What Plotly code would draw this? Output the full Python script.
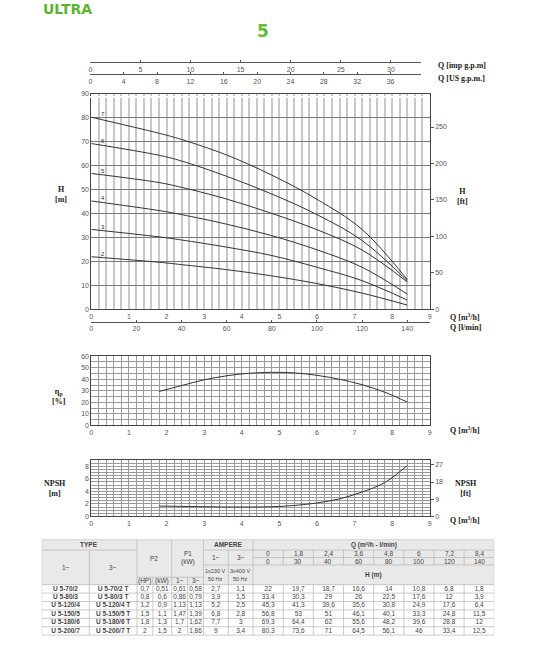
import plotly.graph_objects as go

# ---- data read from the sheet ----
q_m3h = [0, 1.8, 2.4, 3.6, 4.8, 6, 7.2, 8.4]
q_lmin = [0, 30, 40, 60, 80, 100, 120, 140]
stages = [2, 3, 4, 5, 6, 7]
head_2 = [22, 19.7, 18.7, 16.6, 14, 10.8, 6.8, 1.8]
head_3 = [33.4, 30.3, 29, 26, 22.5, 17.6, 12, 3.9]
head_4 = [45.3, 41.3, 39.6, 35.6, 30.8, 24.9, 17.6, 6.4]
head_5 = [56.8, 53, 51, 46.1, 40.1, 33.3, 24.8, 11.5]
head_6 = [69.3, 64.4, 62, 55.6, 48.2, 39.6, 28.8, 12]
head_7 = [80.3, 73.6, 71, 64.5, 56.1, 46, 33.4, 12.5]
heads = [head_2, head_3, head_4, head_5, head_6, head_7]

types_1 = ["U 5-70/2", "U 5-80/3", "U 5-120/4", "U 5-150/5", "U 5-180/6", "U 5-200/7"]
types_3 = ["U 5-70/2 T", "U 5-80/3 T", "U 5-120/4 T", "U 5-150/5 T", "U 5-180/6 T", "U 5-200/7 T"]
p2_hp = [0.7, 0.8, 1.2, 1.5, 1.8, 2]
p2_kw = [0.51, 0.6, 0.9, 1.1, 1.3, 1.5]
p1_1 = [0.61, 0.86, 1.13, 1.47, 1.7, 2]
p1_3 = [0.58, 0.79, 1.13, 1.39, 1.62, 1.86]
amp_1 = [2.7, 3.9, 5.2, 6.8, 7.7, 9]
amp_3 = [1.1, 1.5, 2.5, 2.8, 3, 3.4]

q_curve = [1.8, 2.4, 3.0, 3.6, 4.2, 4.8, 5.4, 6.0, 6.6, 7.2, 7.8, 8.4]
eff = [29.4, 34.5, 39.5, 43, 45.2, 46, 45.5, 43.4, 40, 35.3, 28.8, 20.3]
npsh = [1.65, 1.6, 1.55, 1.5, 1.5, 1.55, 1.75, 2.15, 2.8, 3.9, 5.4, 8.1]

M_TO_FT = 3.28084
IMP_GPM = 0.2728   # m3/h per imp gpm
US_GPM = 0.2271    # m3/h per US gpm

W, H = 534, 650


def px(x):
    return x / W


def py(y):
    return 1 - y / H


def fmt(v):
    return f"{v:g}".replace(".", ",")


TICK = dict(family="Liberation Sans, Arial", size=7, color="#555")
LAB = dict(family="Liberation Serif, Times New Roman", size=8, color="#222")
CURVE = dict(color="#333", width=1)
XDOM = [px(90), px(431)]

fig = go.Figure()

for st, hd in zip(stages, heads):
    fig.add_trace(go.Scatter(x=q_m3h, y=hd, mode="lines", line=dict(shape="spline", **CURVE),
                             xaxis="x", yaxis="y", hoverinfo="skip"))
    fig.add_annotation(x=0.3, y=hd[0] + 1.2, xref="x", yref="y", text=str(st), showarrow=False,
                       font=dict(family="Liberation Sans", size=6, color="#333"))

# dummies so the extra axes get drawn
fig.add_trace(go.Scatter(x=[0], y=[None], xaxis="x2", yaxis="y8", hoverinfo="skip"))
fig.add_trace(go.Scatter(x=[0], y=[None], xaxis="x3", yaxis="y8", hoverinfo="skip"))
fig.add_trace(go.Scatter(x=[0], y=[None], xaxis="x6", yaxis="y8", hoverinfo="skip"))
fig.add_trace(go.Scatter(x=[0], y=[None], xaxis="x", yaxis="y2", hoverinfo="skip"))
fig.add_trace(go.Scatter(x=[0], y=[None], xaxis="x5", yaxis="y6", hoverinfo="skip"))

fig.add_trace(go.Scatter(x=q_curve, y=eff, mode="lines", line=dict(shape="spline", **CURVE),
                         xaxis="x4", yaxis="y4", hoverinfo="skip"))
fig.add_trace(go.Scatter(x=q_curve, y=npsh, mode="lines", line=dict(shape="spline", **CURVE),
                         xaxis="x5", yaxis="y5", hoverinfo="skip"))

frame = dict(showline=True, linecolor="#444", linewidth=1, mirror=True, zeroline=False,
             tickfont=TICK, ticks="")

fig.update_layout(
    width=W, height=H, margin=dict(l=0, r=0, t=0, b=0),
    paper_bgcolor="white", plot_bgcolor="white", showlegend=False,
    # main H-Q chart
    xaxis=dict(domain=XDOM, anchor="y", range=[0, 9], dtick=1, showgrid=True,
               gridcolor="#c8c8c8", gridwidth=1.5,
               minor=dict(dtick=0.2, showgrid=True, gridcolor="#c8c8c8", gridwidth=1.5), **frame),
    yaxis=dict(domain=[py(308.7), py(91)], anchor="x", range=[0, 90], dtick=10,
               showgrid=True, gridcolor="#7a7a7a", gridwidth=1, **frame),
    yaxis2=dict(overlaying="y", side="right", anchor="x", range=[0, 90 * M_TO_FT],
                tickvals=[0, 50, 100, 150, 200, 250], ticks="outside", ticklen=3,
                tickcolor="#555", showgrid=False, zeroline=False, tickfont=TICK),
    # top scales
    xaxis2=dict(domain=[px(89), px(422)], anchor="free", position=py(59), side="bottom",
                range=[0, 9 / IMP_GPM], dtick=5, showline=True, linecolor="#555",
                ticks="inside", ticklen=2, tickcolor="#555", showgrid=False, zeroline=False,
                tickfont=TICK),
    xaxis6=dict(domain=[px(89), px(422)], anchor="free", position=py(71), side="bottom",
                range=[0, 9 / US_GPM], dtick=4, showline=True, linecolor="#555",
                ticks="inside", ticklen=2, tickcolor="#555", showgrid=False, zeroline=False,
                tickfont=TICK),
    # l/min scale
    xaxis3=dict(domain=XDOM, anchor="free", position=py(321), side="bottom",
                range=[0, 150], tickvals=[0, 20, 40, 60, 80, 100, 120, 140],
                showline=True, linecolor="#555", ticks="inside", ticklen=2,
                tickcolor="#555", showgrid=False, zeroline=False, tickfont=TICK),
    yaxis8=dict(visible=False, domain=[py(95), py(93)], anchor="x2"),
    # efficiency
    xaxis4=dict(domain=XDOM, anchor="y4", range=[0, 9], dtick=1, showgrid=True,
                gridcolor="#9a9a9a", gridwidth=0.8,
                minor=dict(dtick=0.2, showgrid=True, gridcolor="#9a9a9a", gridwidth=0.8), **frame),
    yaxis4=dict(domain=[py(426), py(356)], anchor="x4", range=[0, 60], dtick=10,
                showgrid=True, gridcolor="#9a9a9a", gridwidth=0.8,
                minor=dict(dtick=5, showgrid=True, gridcolor="#9a9a9a", gridwidth=0.8), **frame),
    # NPSH
    xaxis5=dict(domain=XDOM, anchor="y5", range=[0, 9], dtick=1, showgrid=True,
                gridcolor="#9a9a9a", gridwidth=0.8,
                minor=dict(dtick=0.2, showgrid=True, gridcolor="#9a9a9a", gridwidth=0.8), **frame),
    yaxis5=dict(domain=[py(518), py(461)], anchor="x5", range=[0, 9], tickvals=[0, 2, 4, 6, 8],
                showgrid=True, gridcolor="#9a9a9a", gridwidth=0.8,
                minor=dict(dtick=0.5, showgrid=True, gridcolor="#9a9a9a", gridwidth=0.8), **frame),
    yaxis6=dict(overlaying="y5", side="right", anchor="x5", range=[0, 9 * M_TO_FT],
                tickvals=[0, 9, 18, 27], ticks="outside", ticklen=3, tickcolor="#555",
                showgrid=False, zeroline=False, tickfont=TICK),
    # table canvas (pixel-like units)
    xaxis7=dict(domain=[px(40), px(496)], anchor="y7", range=[40, 496], visible=False),
    yaxis7=dict(domain=[py(639), py(541)], anchor="x7", range=[639, 541], visible=False),
)


def note(x, y, text, font, xanchor="center"):
    fig.add_annotation(x=px(x), y=py(y), xref="paper", yref="paper", text=text,
                       showarrow=False, font=font, xanchor=xanchor, yanchor="middle")


# titles and axis names
note(39, 5, "<b>ULTRA</b>", dict(family="DejaVu Sans", size=14, color="#5db330"), "left")
note(263, 27, "<b>5</b>", dict(family="DejaVu Sans", size=17, color="#63bb35"))
note(437, 62, "<b>Q [imp g.p.m]</b>", LAB, "left")
note(437, 75, "<b>Q [US g.p.m.]</b>", LAB, "left")
note(59, 193, "<b>H<br>[m]</b>", LAB)
note(464, 195, "<b>H<br>[ft]</b>", LAB)
note(449, 316, "<b>Q [m<sup>3</sup>/h]</b>", LAB, "left")
note(449, 327, "<b>Q [l/min]</b>", LAB, "left")
note(57, 397, "<b>η<sub>p</sub><br>[%]</b>", LAB)
note(449, 431, "<b>Q [m<sup>3</sup>/h]</b>", LAB, "left")
note(53, 490, "<b>NPSH<br>[m]</b>", LAB)
note(468, 490, "<b>NPSH<br>[ft]</b>", LAB)
note(449, 522, "<b>Q [m<sup>3</sup>/h]</b>", LAB, "left")

# ---- table ----
qw = (496 - 253) / 8
cols = [40, 88, 136, 152, 171, 187, 203, 228, 253] + [253 + k * qw for k in range(1, 9)]
top, r1, r2, r3, r4, hb = 541.5, 552, 559.5, 567, 579.5, 587
rh = 8.5
bottom = hb + 6 * rh
LINE = dict(color="#b4b4b4", width=0.7)

fig.add_shape(type="rect", xref="x7", yref="y7", x0=40, x1=496, y0=top, y1=hb,
              fillcolor="#e9e9e9", line=dict(width=0), layer="below")
segs = [(40, top, 496, top), (40, r1, 136, r1), (203, r1, 496, r1), (253, r2, 496, r2),
        (203, r3, 496, r3), (136, r4, 203, r4)]
segs += [(40, hb + i * rh, 496, hb + i * rh) for i in range(7)]
for xc in [40, 136, 171, 203, 253, 496]:
    segs.append((xc, top, xc, bottom))
for xc in [88, 228]:
    segs.append((xc, r1, xc, bottom))
for xc in [152, 187]:
    segs.append((xc, r4, xc, bottom))
for xc in cols[9:-1]:
    segs.append((xc, r1, xc, r3))
    segs.append((xc, hb, xc, bottom))
for x0, y0, x1, y1 in segs:
    fig.add_shape(type="line", xref="x7", yref="y7", x0=x0, y0=y0, x1=x1, y1=y1, line=LINE)

TF = dict(family="Liberation Sans, Arial", size=6.5, color="#444")


def cell(x, y, text):
    fig.add_annotation(x=x, y=y, xref="x7", yref="y7", text=text, showarrow=False, font=TF)


def mid(a, b):
    return (a + b) / 2


cell(mid(40, 136), mid(top, r1), "<b>TYPE</b>")
cell(mid(40, 88), mid(r1, hb), "1~")
cell(mid(88, 136), mid(r1, hb), "3~")
cell(mid(136, 171), mid(top, r4), "P2")
cell(mid(171, 203), mid(top, r4), "P1<br>(kW)")
cell(mid(136, 152), mid(r4, hb), "(HP)")
cell(mid(152, 171), mid(r4, hb), "(kW)")
cell(mid(171, 187), mid(r4, hb), "1~")
cell(mid(187, 203), mid(r4, hb), "3~")
cell(mid(203, 253), mid(top, r1), "<b>AMPERE</b>")
cell(mid(203, 228), mid(r1, r3), "1~")
cell(mid(228, 253), mid(r1, r3), "3~")
cell(mid(203, 228), mid(r3, hb), "<span style='font-size:5.5px'>1x230 V<br>50 Hz</span>")
cell(mid(228, 253), mid(r3, hb), "<span style='font-size:5.5px'>3x400 V<br>50 Hz</span>")
cell(mid(253, 496), mid(top, r1), "<b>Q (m³/h - l/min)</b>")
cell(mid(253, 496), mid(r3, hb), "<b>H (m)</b>")
for k in range(8):
    cell(mid(cols[8 + k], cols[9 + k]), mid(r1, r2), fmt(q_m3h[k]))
    cell(mid(cols[8 + k], cols[9 + k]), mid(r2, r3), fmt(q_lmin[k]))

tx, ty, tt = [], [], []
for r in range(6):
    row = ["<b>%s</b>" % types_1[r], "<b>%s</b>" % types_3[r], fmt(p2_hp[r]), fmt(p2_kw[r]),
           fmt(p1_1[r]), fmt(p1_3[r]), fmt(amp_1[r]), fmt(amp_3[r])] + [fmt(v) for v in heads[r]]
    for c, t in enumerate(row):
        tx.append(mid(cols[c], cols[c + 1]))
        ty.append(hb + (r + 0.5) * rh)
        tt.append(t)
fig.add_trace(go.Scatter(x=tx, y=ty, text=tt, mode="text", textfont=TF,
                         xaxis="x7", yaxis="y7", hoverinfo="skip"))

# the page's default body margin would push the fixed-size figure off the window
fig.write_html("out.html", config={"displayModeBar": False},
               post_script="document.body.style.margin='0';")
